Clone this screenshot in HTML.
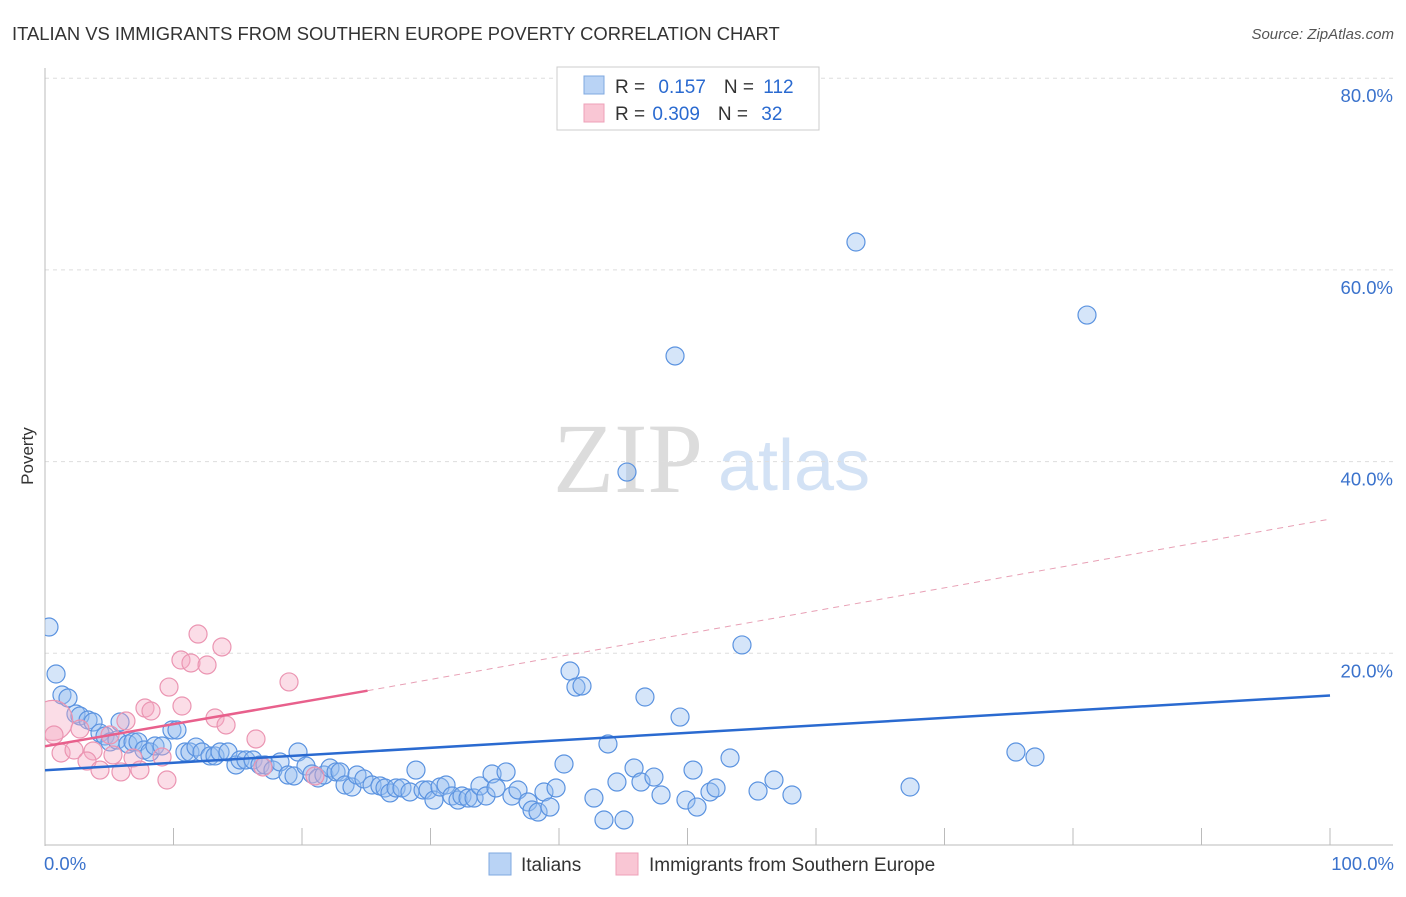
<!DOCTYPE html>
<html><head><meta charset="utf-8"><style>
body{margin:0;background:#fff;font-family:"Liberation Sans",sans-serif}
</style></head><body>
<svg id="c" width="1406" height="892" xmlns="http://www.w3.org/2000/svg">
<defs><clipPath id="plot"><rect x="45" y="60" width="1360" height="786"/></clipPath></defs>
<text x="12" y="40" font-size="18.4" fill="#333">ITALIAN VS IMMIGRANTS FROM SOUTHERN EUROPE POVERTY CORRELATION CHART</text>
<text x="1394" y="39" font-size="15" fill="#555" font-style="italic" text-anchor="end">Source: ZipAtlas.com</text>
<text x="553" y="492" font-size="100" fill="#dcdcdc" font-family="Liberation Serif">ZIP</text>
<text x="718" y="490" font-size="72" fill="#d3e2f5">atlas</text>
<text x="33" y="456" font-size="17" fill="#333" text-anchor="middle" transform="rotate(-90 33 456)">Poverty</text>
<g id="grid"></g><g id="axes"></g><g id="marks" clip-path="url(#plot)"></g>
<g>
<rect x="557" y="67" width="262" height="63" fill="#fff" stroke="#ccc"/>
<rect x="584" y="76" width="20" height="18" fill="#b9d3f5" stroke="#7fa8e0"/>
<rect x="584" y="104" width="20" height="18" fill="#f9c6d4" stroke="#eea0b8"/>
<text x="615" y="93" font-size="19" fill="#333">R = <tspan fill="#2a6ad0" dx="8">0.157</tspan><tspan dx="18" fill="#333">N = </tspan><tspan fill="#2a6ad0" dx="4">112</tspan></text>
<text x="615" y="120" font-size="19" fill="#333">R = <tspan fill="#2a6ad0" dx="2">0.309</tspan><tspan dx="18" fill="#333">N = </tspan><tspan fill="#2a6ad0" dx="8">32</tspan></text>
</g>
<g>
<rect x="489" y="853" width="22" height="22" fill="#b9d3f5" stroke="#7fa8e0"/>
<text x="521" y="871" font-size="19" fill="#333">Italians</text>
<rect x="616" y="853" width="22" height="22" fill="#f9c6d4" stroke="#eea0b8"/>
<text x="649" y="871" font-size="19" fill="#333">Immigrants from Southern Europe</text>
</g>
</svg>
<script>
const yTicks=[20,40,60,80];
const yTickLabels=["20.0%","40.0%","60.0%","80.0%"];
const xTickLabels=["0.0%","100.0%"];
const bluePx=[[49,627],[56,674],[62,695],[68,698],[76,714],[80,716],[88,720],[93,722],[100,733],[105,736],[110,742],[117,740],[120,722],[128,744],[133,742],[138,742],[144,750],[150,752],[155,746],[162,746],[172,730],[177,730],[185,752],[190,752],[196,747],[202,752],[210,756],[215,756],[220,752],[228,752],[236,765],[240,760],[246,760],[253,760],[260,765],[265,765],[273,770],[280,762],[288,775],[294,776],[298,752],[306,766],[312,774],[318,778],[324,775],[330,768],[336,772],[340,772],[345,785],[352,787],[357,775],[364,779],[372,785],[380,786],[385,788],[390,793],[396,788],[402,788],[410,792],[416,770],[423,790],[428,790],[434,800],[440,787],[446,785],[452,796],[458,800],[462,796],[468,798],[474,798],[480,786],[486,796],[492,774],[496,788],[506,772],[512,796],[518,790],[528,802],[532,810],[538,812],[544,792],[550,807],[556,788],[564,764],[570,671],[576,687],[582,686],[594,798],[604,820],[608,744],[617,782],[624,820],[627,472],[634,768],[641,782],[645,697],[654,777],[661,795],[675,356],[680,717],[686,800],[693,770],[697,807],[710,792],[716,788],[730,758],[742,645],[758,791],[774,780],[792,795],[856,242],[910,787],[1016,752],[1035,757],[1087,315]];
const pinkPx=[[198,634],[222,647],[181,660],[191,663],[207,665],[169,687],[289,682],[182,706],[145,708],[151,711],[215,718],[226,725],[126,721],[54,735],[80,729],[256,739],[61,753],[74,750],[93,751],[87,761],[113,755],[133,758],[162,757],[100,770],[121,772],[140,770],[167,780],[263,767],[315,776],[110,735]];
const italiansX=bluePx.map(p=>+((p[0]-45)/12.85).toFixed(2));
const italiansY=bluePx.map(p=>+((845-p[1])/9.585).toFixed(2));
const immigrantsX=[0.6].concat(pinkPx.map(p=>+((p[0]-45)/12.85).toFixed(2)));
const immigrantsY=[13].concat(pinkPx.map(p=>+((845-p[1])/9.585).toFixed(2)));
const blueTrend=[7.8,15.6];
const pinkTrend=[10.3,16.1,34.0];
const X=v=>45+v*12.85, Y=v=>845-v*9.585;
const NS="http://www.w3.org/2000/svg";
function mk(t,a,p){const e=document.createElementNS(NS,t);for(const k in a)e.setAttribute(k,a[k]);p.appendChild(e);return e;}
const g=document.getElementById('grid'),ax=document.getElementById('axes'),m=document.getElementById('marks');
yTicks.forEach((v,i)=>{
 const l=mk('line',{x1:45,x2:1393,y1:Y(v),y2:Y(v),stroke:'#ddd','stroke-dasharray':'4,4'},g);
 
 
 const t=mk('text',{x:1393,y:Y(v)+24,'font-size':18.5,fill:'#3a72cc','text-anchor':'end'},ax);
 t.textContent=yTickLabels[i];
 
 
});
const a1=mk('line',{x1:45,x2:45,y1:68,y2:846,stroke:'#bbb'},ax);


const a2=mk('line',{x1:45,x2:1393,y1:845,y2:845,stroke:'#bbb'},ax);


for(let i=0;i<=10;i++){const t=mk('line',{x1:X(i*10),x2:X(i*10),y1:828,y2:845,stroke:'#bbb'},ax);
 
 }
[[0,'start',44],[100,'end',1394]].forEach((d,i)=>{const t=mk('text',{x:d[2],y:870,'font-size':18.5,fill:'#3a72cc','text-anchor':d[1]},ax);
 t.textContent=xTickLabels[i];
 
 });
italiansX.forEach((x,i)=>{const c=mk('circle',{cx:X(x),cy:Y(italiansY[i]),r:9,fill:'rgba(150,190,240,0.4)',stroke:'#5b93e0','stroke-width':1.2},m);
 
 });
immigrantsX.forEach((x,i)=>{const c=mk('circle',{cx:X(x),cy:Y(immigrantsY[i]),r:i==0?20:9,fill:'rgba(245,170,195,0.4)',stroke:'#eb95b2','stroke-width':1.2},m);
 
 });
const bl=mk('line',{x1:X(0),y1:Y(blueTrend[0]),x2:X(100),y2:Y(blueTrend[1]),stroke:'#2a6ad0','stroke-width':2.5},m);


const pl=mk('line',{x1:X(0),y1:Y(pinkTrend[0]),x2:X(25.1),y2:Y(pinkTrend[1]),stroke:'#e8608c','stroke-width':2.5},m);


const pd=mk('line',{x1:X(25.1),y1:Y(pinkTrend[1]),x2:X(100),y2:Y(pinkTrend[2]),stroke:'#e8a0b5','stroke-width':1,'stroke-dasharray':'6,5'},m);


</script>
</body></html>
